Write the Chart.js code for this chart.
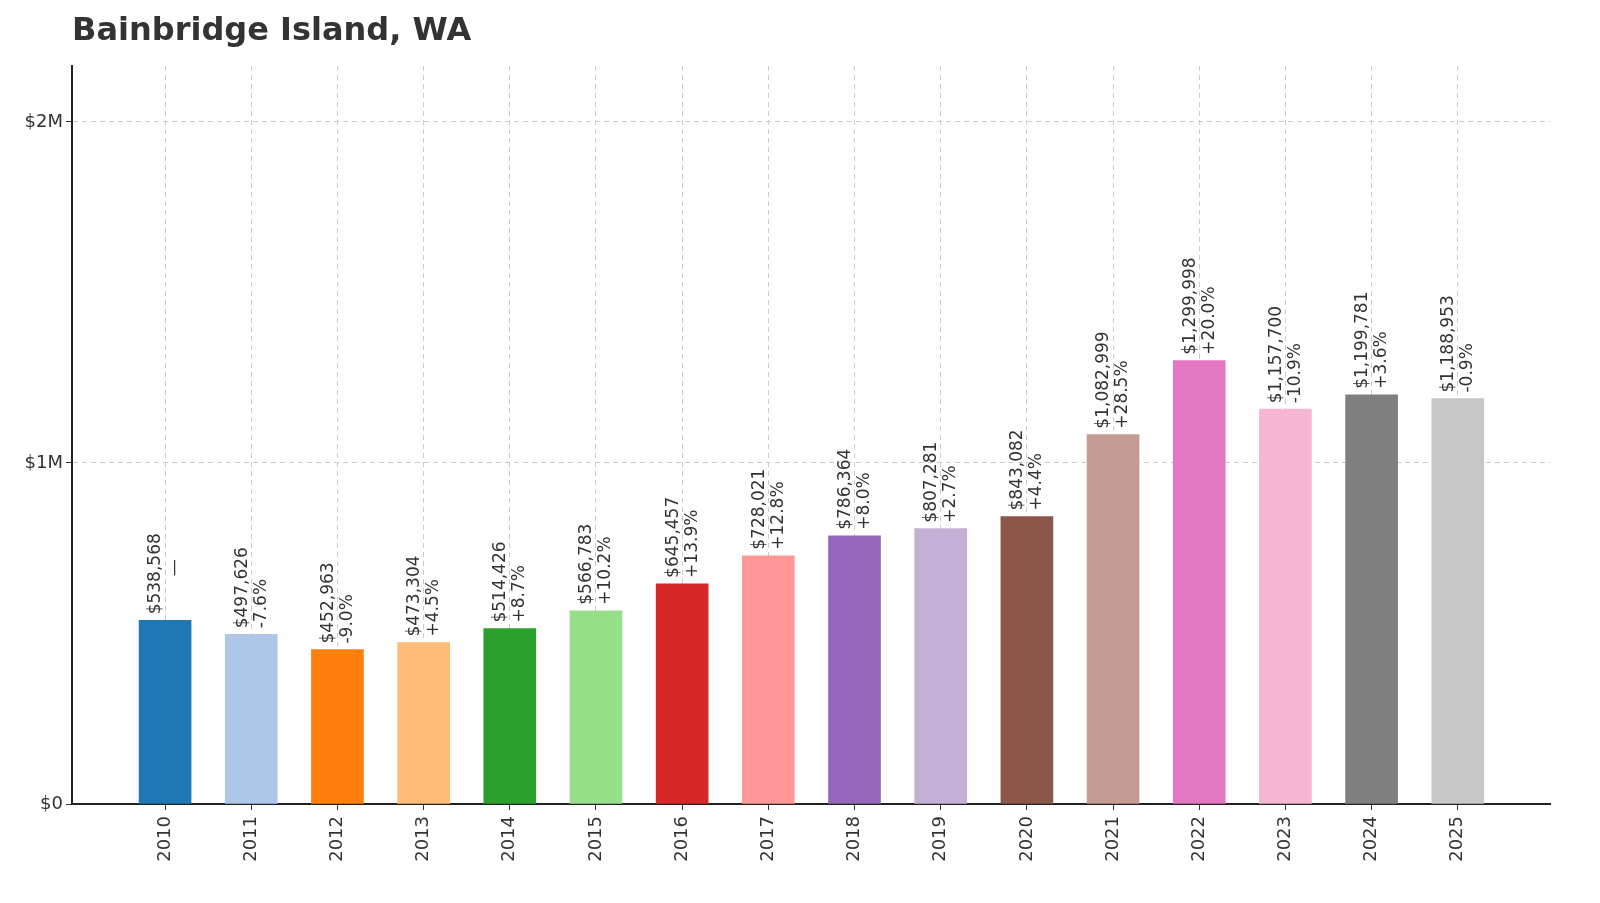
<!DOCTYPE html>
<html><head><meta charset="utf-8">
<script src="https://cdn.jsdelivr.net/npm/chart.js@4"></script>
<style>html,body{margin:0;background:#fff;overflow:hidden}#wrap{width:1600px;height:903px;position:relative}</style>
</head><body><div id="wrap"><canvas id="c"></canvas></div>
<script>
const years = ['2010','2011','2012','2013','2014','2015','2016','2017','2018','2019','2020','2021','2022','2023','2024','2025'];
const values = [538568,497626,452963,473304,514426,566783,645457,728021,786364,807281,843082,1082999,1299998,1157700,1199781,1188953];
const changes = ['—','-7.6%','-9.0%','+4.5%','+8.7%','+10.2%','+13.9%','+12.8%','+8.0%','+2.7%','+4.4%','+28.5%','+20.0%','-10.9%','+3.6%','-0.9%'];
const colors = ['#1f77b4','#aec7e8','#ff7f0e','#ffbb78','#2ca02c','#98df8a','#d62728','#ff9896','#9467bd','#c5b0d5','#8c564b','#c49c94','#e377c2','#f7b6d2','#7f7f7f','#c7c7c7'];
const FONT = 'DejaVu Sans, sans-serif';

const labelPlugin = {
  id: 'labels',
  afterDatasetsDraw(chart) {
    const ctx = chart.ctx;
    const meta = chart.getDatasetMeta(0);
    ctx.save();
    ctx.font = '17px ' + FONT;
    ctx.fillStyle = '#333';
    ctx.textAlign = 'left';
    ctx.textBaseline = 'middle';
    meta.data.forEach((bar, i) => {
      const lines = ['$' + values[i].toLocaleString('en-US'), changes[i]];
      ctx.save();
      ctx.translate(bar.x, bar.y - 6);
      ctx.rotate(-Math.PI / 2);
      ctx.fillText(lines[0], 0, -9);
      ctx.fillText(lines[1], lines[1] === '—' ? 38 : 0, 10);
      ctx.restore();
    });
    ctx.font = 'bold 32px ' + FONT;
    ctx.fillStyle = '#333';
    ctx.textBaseline = 'middle';
    ctx.fillText('Bainbridge Island, WA', 72, 32);
    ctx.restore();
  }
};

new Chart(document.getElementById('c'), {
  type: 'bar',
  data: { datasets: [{ data: values.map((v, i) => ({ x: i, y: v })), backgroundColor: colors, barThickness: 52 }] },
  options: {
    responsive: true, maintainAspectRatio: false, animation: false,
    layout: { padding: { top: 66, right: 50, left: 0, bottom: 0 } },
    plugins: { legend: { display: false }, tooltip: { enabled: false } },
    scales: {
      x: {
        type: 'linear', min: -1.08, max: 16.07, offset: false,
        afterBuildTicks: s => { s.ticks = years.map((_, i) => ({ value: i })); },
        afterFit: s => { s.height = 99; },
        ticks: { callback: v => years[v], maxRotation: 90, minRotation: 90, color: '#333', font: { family: FONT, size: 18 }, padding: 6 },
        grid: { offset: false, color: '#ccc', tickLength: 6, tickColor: '#333' },
        border: { color: '#222', width: 2, dash: [5, 4] }
      },
      y: {
        min: 0, max: 2164000,
        afterBuildTicks: s => { s.ticks = [0, 1000000, 2000000].map(v => ({ value: v })); },
        afterFit: s => { s.width = 72; },
        ticks: { callback: v => v === 0 ? '$0' : '$' + v / 1e6 + 'M', color: '#333', font: { family: FONT, size: 18 } },
        grid: { color: '#ccc', tickLength: 6, tickColor: '#333' },
        border: { color: '#222', width: 2, dash: [5, 4] }
      }
    }
  },
  plugins: [labelPlugin]
});
</script></body></html>
